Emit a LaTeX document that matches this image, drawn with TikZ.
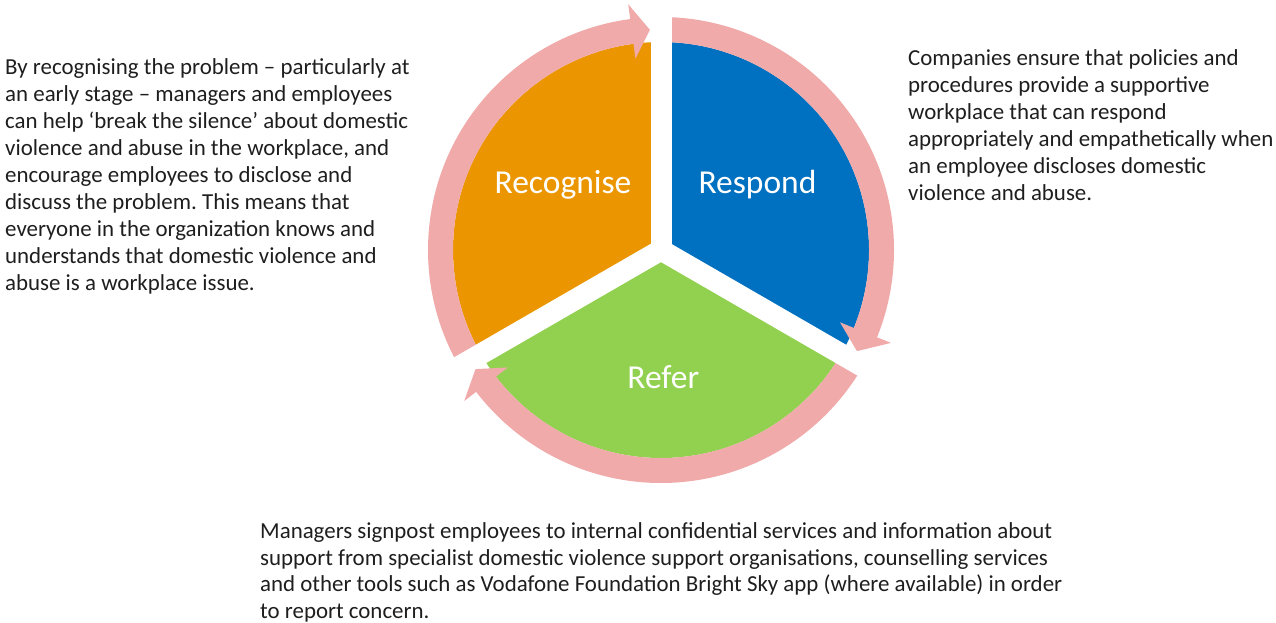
\documentclass[tikz,border=0pt]{standalone}
\usepackage{fontspec}
\usetikzlibrary{calc}
\setmainfont{Carlito}
\frenchspacing
\definecolor{recog}{RGB}{235,150,0}
\definecolor{resp}{RGB}{0,112,192}
\definecolor{referc}{RGB}{146,208,80}
\definecolor{ringpink}{RGB}{240,170,170}
\definecolor{txt}{RGB}{30,30,30}
\newcommand{\ringarrow}[3]{% start angle, head base angle, tip angle
  \fill[ringpink, shift={(C)}] (#1:233pt) arc[start angle=#1, end angle=#2, radius=233pt]
    -- (#2:248pt) -- (#3:220.5pt) -- (#2:193pt) -- (#2:208pt)
    arc[start angle=#2, end angle=#1, radius=208pt] -- cycle;}
\begin{document}
\begin{tikzpicture}[x=1pt,y=1pt,
  body/.style={inner sep=0pt, anchor=north west, align=left, text=txt,
    font=\fontsize{22.9}{27}\selectfont},
  seglabel/.style={text=white, inner sep=0pt, anchor=base,
    font=\fontsize{33.5}{40}\selectfont},
  gapline/.style={draw=white, line width=21pt}]
\useasboundingbox (0,0) rectangle (1276,-623);
\coordinate (C) at (661,-250);
% pie
\fill[recog] (C) -- ++(90:208pt) arc[start angle=90, end angle=210, radius=208pt] -- cycle;
\fill[resp] (C) -- ++(-30:208pt) arc[start angle=-30, end angle=90, radius=208pt] -- cycle;
\fill[referc] (C) -- ++(210:208pt) arc[start angle=210, end angle=330, radius=208pt] -- cycle;
% ring arrows
\ringarrow{210}{97.6}{92.9}
\ringarrow{90}{-22}{-27.3}
\ringarrow{-30}{-142.5}{-147.3}
% gaps
\coordinate (G1) at ($(C)+(90:262pt)$);
\coordinate (G2) at ($(C)+(-30:262pt)$);
\coordinate (G3) at ($(C)+(210:262pt)$);
\draw[gapline] (C) -- (G1);
\draw[gapline] (C) -- (G2);
\draw[gapline] (C) -- (G3);
% labels
\node[seglabel] (recognise) at (563,-193.3) {Recognise};
\node[seglabel] (respond) at (757.5,-193.3) {Respond};
\node[seglabel] (refer) at (663.3,-388.3) {Refer};
% texts
\node[body] (lefttext) at (5,-54.3) {\rule{0pt}{20pt}By recognising the problem – particularly at\\
an early stage – managers and employees\\
can help ‘break the silence’ about domestic\\
violence and abuse in the workplace, and\\
encourage employees to disclose and\\
discuss the problem. This means that\\
everyone in the organization knows and\\
understands that domestic violence and\\
abuse is a workplace issue.};
\node[body] (righttext) at (908,-45) {\rule{0pt}{20pt}Companies ensure that policies and\\
procedures provide a supportive\\
workplace that can respond\\
appropriately and empathetically when\\
an employee discloses domestic\\
violence and abuse.};
\node[body, font=\fontsize{22.9}{26.5}\selectfont] (bottomtext) at (260,-518.3) {\rule{0pt}{20pt}Managers signpost employees to internal confidential services and information about\\
support from specialist domestic violence support organisations, counselling services\\
and other tools such as Vodafone Foundation Bright Sky app (where available) in order\\
to report concern.};
\end{tikzpicture}
\end{document}
